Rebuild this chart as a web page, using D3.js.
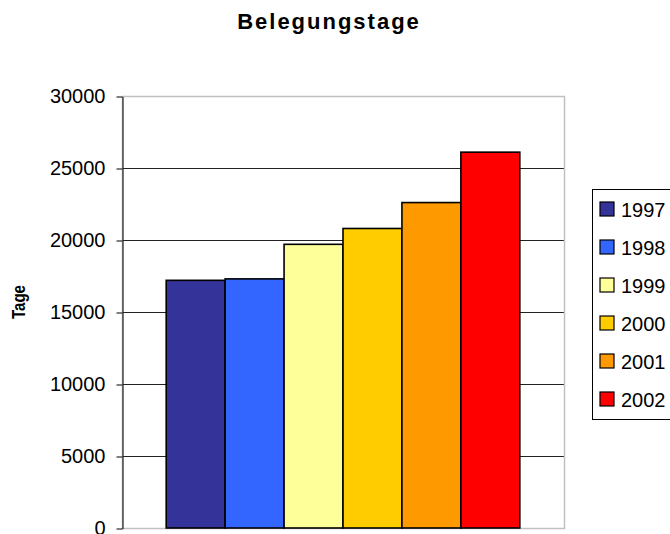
<!DOCTYPE html>
<html>
<head>
<meta charset="utf-8">
<script src="https://cdn.jsdelivr.net/npm/d3@7"></script>
<style>
  body { margin: 0; background: #fff; }
  svg { display: block; font-family: "Liberation Sans", Arial, sans-serif; }
</style>
</head>
<body>
<script>
// chart data
const years = ["1997", "1998", "1999", "2000", "2001", "2002"];
const tage = [17200, 17300, 19700, 20800, 22600, 26100];
const colors = ["#333399", "#3366FF", "#FFFF99", "#FFCC00", "#FF9900", "#FF0000"];
const yTicks = [0, 5000, 10000, 15000, 20000, 25000, 30000];

// canvas variables
const width = 670;
const height = 534;
const plot = { left: 122, top: 96, right: 564, bottom: 528 };

const svg = d3
  .select("body")
  .append("svg")
  .attr("width", width)
  .attr("height", height);

// scales
const yScale = d3.scaleLinear().domain([0, 30000]).range([plot.bottom, plot.top]);

const xGroup = d3
  .scaleBand()
  .domain(["Belegungstage"])
  .range([plot.left, plot.right])
  .paddingOuter(0.125);

const xBar = d3
  .scaleBand()
  .domain(years)
  .range([xGroup("Belegungstage"), xGroup("Belegungstage") + xGroup.bandwidth()]);

const color = d3.scaleOrdinal().domain(years).range(colors);

// title
svg
  .append("text")
  .attr("x", 329)
  .attr("y", 29)
  .style("font-size", "22px")
  .style("font-weight", "bold")
  .style("letter-spacing", "2px")
  .style("text-anchor", "middle")
  .text("Belegungstage");

// gridlines
svg
  .append("g")
  .selectAll("line")
  .data(yTicks.filter((d) => d > 0 && d < 30000))
  .enter()
  .append("line")
  .attr("x1", plot.left)
  .attr("x2", plot.right)
  .attr("y1", (d) => yScale(d) + 0.5)
  .attr("y2", (d) => yScale(d) + 0.5)
  .style("stroke", "#222")
  .style("stroke-width", 1);

// plot border
svg
  .append("rect")
  .attr("x", plot.left + 0.5)
  .attr("y", plot.top + 0.5)
  .attr("width", plot.right - plot.left)
  .attr("height", plot.bottom - plot.top)
  .style("fill", "none")
  .style("stroke", "#c0c0c0")
  .style("stroke-width", 1.5);

// bars
svg
  .selectAll("rect.bar")
  .data(tage)
  .enter()
  .append("rect")
  .attr("class", "bar")
  .attr("x", (d, i) => xBar(years[i]))
  .attr("y", (d) => yScale(d))
  .attr("width", xBar.bandwidth())
  .attr("height", (d) => plot.bottom - yScale(d))
  .style("fill", (d, i) => color(years[i]))
  .style("stroke", "#000")
  .style("stroke-width", 1.6);

// y-axis
const yAxis = svg
  .append("g")
  .attr("transform", `translate(${plot.left + 0.5}, 0.5)`)
  .call(
    d3
      .axisLeft(yScale)
      .tickValues(yTicks)
      .tickFormat(d3.format("d"))
      .tickSize(6)
      .tickPadding(11)
      .tickSizeOuter(0)
  );

yAxis.select(".domain").style("stroke", "#000");
yAxis.selectAll(".tick line").style("stroke", "#000");
yAxis
  .selectAll(".tick text")
  .style("font-size", "20px")
  .style("font-family", "'Liberation Sans', Arial, sans-serif")
  .style("fill", "#000");

// y-label
svg
  .append("text")
  .attr("transform", "rotate(-90)")
  .attr("x", -302)
  .attr("y", 25)
  .attr("textLength", 34)
  .attr("lengthAdjust", "spacingAndGlyphs")
  .style("font-size", "18px")
  .style("font-weight", "bold")
  .style("text-anchor", "middle")
  .text("Tage");

// legend
const legend = svg.append("g").attr("transform", "translate(592, 189)");

legend
  .append("rect")
  .attr("x", 0.5)
  .attr("y", 0.5)
  .attr("width", 100)
  .attr("height", 230)
  .style("fill", "#fff")
  .style("stroke", "#000")
  .style("stroke-width", 1);

const item = legend
  .selectAll("g.item")
  .data(years)
  .enter()
  .append("g")
  .attr("class", "item")
  .attr("transform", (d, i) => `translate(8, ${20 + i * 38})`);

item
  .append("rect")
  .attr("x", 0)
  .attr("y", -7)
  .attr("width", 14)
  .attr("height", 14)
  .style("fill", (d) => color(d))
  .style("stroke", "#000")
  .style("stroke-width", 1.2);

item
  .append("text")
  .attr("x", 21)
  .attr("y", 7.5)
  .style("font-size", "20px")
  .text((d) => d);
</script>
</body>
</html>
